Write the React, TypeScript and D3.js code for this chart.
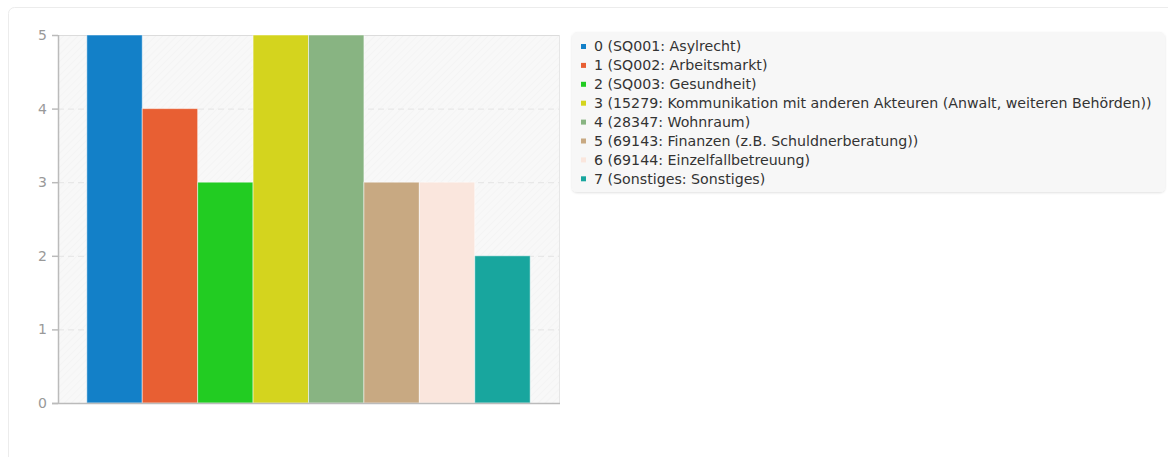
import React from "react";
import * as d3 from "d3";

const categories = [
  "0 (SQ001: Asylrecht)",
  "1 (SQ002: Arbeitsmarkt)",
  "2 (SQ003: Gesundheit)",
  "3 (15279: Kommunikation mit anderen Akteuren (Anwalt, weiteren Behörden))",
  "4 (28347: Wohnraum)",
  "5 (69143: Finanzen (z.B. Schuldnerberatung))",
  "6 (69144: Einzelfallbetreuung)",
  "7 (Sonstiges: Sonstiges)",
];
const values = [5, 4, 3, 5, 5, 3, 3, 2];
const colors = ["#1380c8", "#e85f33", "#22cc22", "#d4d41e", "#88b482", "#c8a982", "#fae6dd", "#18a69e"];
const yTicks = [0, 1, 2, 3, 4, 5];

const W = 1168;
const H = 457;
const plot = { left: 58, right: 559, top: 35, bottom: 403 };

export default function App() {
  const x = d3
    .scaleBand<number>()
    .domain(d3.range(categories.length))
    .range([plot.left, plot.right])
    .paddingInner(0)
    .paddingOuter(0.52);
  const y = d3.scaleLinear().domain([0, 5]).range([plot.bottom, plot.top]);
  const font = "'DejaVu Sans', 'Noto Sans', sans-serif";

  return (
    <svg
      width={W}
      height={H}
      style={{ position: "absolute", left: 0, top: 0, display: "block" }}
      fontFamily={font}
    >
      <defs>
        <pattern id="hatch" width="5" height="5" patternUnits="userSpaceOnUse" patternTransform="rotate(45)">
          <rect width="5" height="5" fill="#f8f8f8" />
          <line x1="0" y1="0" x2="0" y2="5" stroke="#f1f1f1" strokeWidth="1" />
        </pattern>
        <filter id="shadow" x="-5%" y="-10%" width="110%" height="130%">
          <feDropShadow dx="0" dy="1" stdDeviation="1.2" floodColor="#000" floodOpacity="0.12" />
        </filter>
      </defs>
      <rect x={0} y={0} width={W} height={H} fill="#fff" />
      {/* outer card */}
      <rect x={8.5} y={7.5} width={W + 20} height={H + 20} rx={6} fill="#fff" stroke="#ececec" />

      {/* plot background */}
      <rect x={plot.left} y={plot.top} width={plot.right - plot.left} height={plot.bottom - plot.top} fill="url(#hatch)" />
      <line x1={plot.right + 0.5} x2={plot.right + 0.5} y1={plot.top} y2={plot.bottom} stroke="#e6e6e6" />

      {/* gridlines */}
      {yTicks.map((t) => (
        <line
          key={"g" + t}
          x1={plot.left}
          x2={plot.right}
          y1={y(t) + 0.5}
          y2={y(t) + 0.5}
          stroke={t === 5 ? "#dcdcdc" : "#e4e4e4"}
          strokeDasharray={t === 5 ? undefined : "6,4"}
        />
      ))}

      {/* bars */}
      {values.map((v, i) => (
        <rect
          key={"b" + i}
          x={x(i)!}
          y={y(v)}
          width={x.bandwidth()}
          height={y(0) - y(v)}
          fill={colors[i]}
          stroke="rgba(255,255,255,0.5)"
          strokeWidth={1}
        />
      ))}

      {/* axes */}
      <line x1={plot.left + 0.5} x2={plot.left + 0.5} y1={plot.top} y2={plot.bottom} stroke="#bbbbbb" strokeWidth={1.5} />
      <line x1={plot.left - 6} x2={plot.right + 1} y1={plot.bottom + 0.5} y2={plot.bottom + 0.5} stroke="#bbbbbb" strokeWidth={1.5} />
      {yTicks.map((t) => (
        <g key={"t" + t}>
          <line x1={plot.left - 6} x2={plot.left} y1={y(t) + 0.5} y2={y(t) + 0.5} stroke="#bbbbbb" strokeWidth={1.5} />
          <text x={plot.left - 11} y={y(t)} dy="0.35em" textAnchor="end" fontSize={14} fill="#999">
            {t}
          </text>
        </g>
      ))}

      {/* legend */}
      <rect x={572} y={32} width={593} height={160} rx={5} fill="#f7f7f7" filter="url(#shadow)" />
      {categories.map((c, i) => (
        <g key={"l" + i} transform={`translate(581, ${46.5 + i * 18.9})`}>
          <rect x={0} y={-2.5} width={5} height={5} fill={colors[i]} />
          <text x={13} y={0} dy="0.35em" fontSize={14.2} fill="#333">
            {c}
          </text>
        </g>
      ))}
    </svg>
  );
}
